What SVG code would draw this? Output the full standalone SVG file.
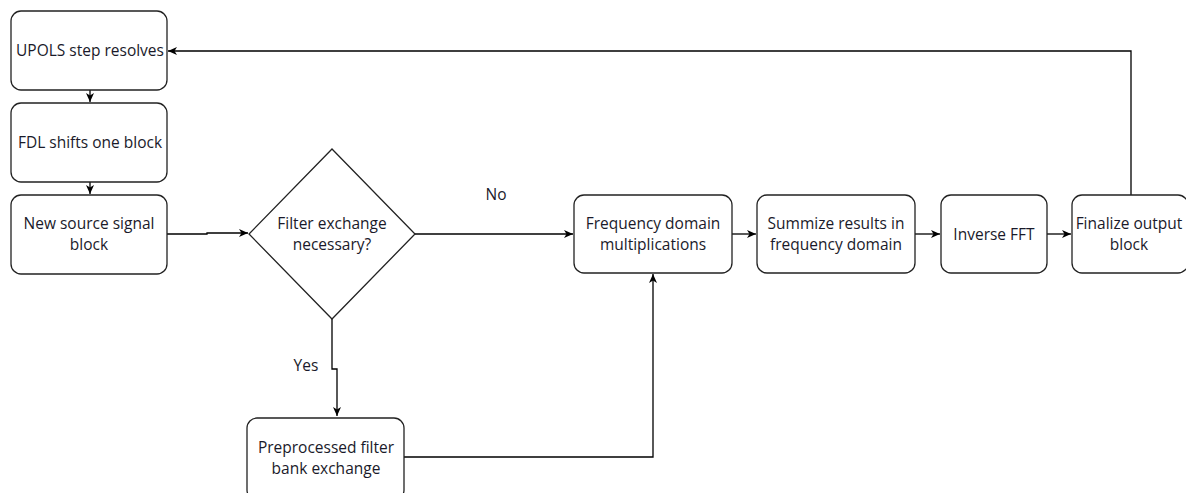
<svg xmlns="http://www.w3.org/2000/svg" width="1186" height="493" viewBox="0 0 1186 493">
  <defs>
    <marker id="arrow" viewBox="0 0 10 10" refX="9" refY="5" markerWidth="10" markerHeight="10" markerUnits="userSpaceOnUse" orient="auto">
      <path d="M0,1 L9,5 L0,9 L2.5,5 Z" fill="#000"/>
    </marker>
  </defs>
  <style>
    .box { fill: #fff; stroke: #222; stroke-width: 1.3; }
    .lbl { font-family: "Open Sans", "Noto Sans", sans-serif; font-size: 15.5px; fill: #1a1a2a; text-anchor: middle; }
    .edge { fill: none; stroke: #000; stroke-width: 1.3; }
  </style>
  <rect width="1186" height="493" fill="#fff"/>

  <g id="connectors">
    <path class="edge" d="M90,90 V102" marker-end="url(#arrow)"/>
    <path class="edge" d="M90,182 V194" marker-end="url(#arrow)"/>
    <path class="edge" d="M167,234 H207 V233 H248" marker-end="url(#arrow)"/>
    <path class="edge" d="M415,234 H573" marker-end="url(#arrow)"/>
    <path class="edge" d="M332,319 V369 H337 V416" marker-end="url(#arrow)"/>
    <path class="edge" d="M404,457 H653 V274" marker-end="url(#arrow)"/>
    <path class="edge" d="M732,234 H756" marker-end="url(#arrow)"/>
    <path class="edge" d="M915,234 H940" marker-end="url(#arrow)"/>
    <path class="edge" d="M1047,234 H1071" marker-end="url(#arrow)"/>
    <path class="edge" d="M1131,195 V51 H168" marker-end="url(#arrow)"/>
    <text class="lbl" x="496" y="200">No</text>
    <text class="lbl" x="306" y="371">Yes</text>
  </g>

  <g id="upols">
    <rect class="box" x="11" y="11" width="156" height="79" rx="10"/>
    <text class="lbl" x="90" y="56">UPOLS step resolves</text>
  </g>
  <g id="fdl">
    <rect class="box" x="11" y="103" width="156" height="79" rx="10"/>
    <text class="lbl" x="90" y="148">FDL shifts one block</text>
  </g>
  <g id="source">
    <rect class="box" x="11" y="195" width="156" height="79" rx="10"/>
    <text class="lbl" x="89" y="229">New source signal</text>
    <text class="lbl" x="89" y="250">block</text>
  </g>
  <g id="decision">
    <polygon class="box" points="332,149 415,234 332,319 249,234"/>
    <text class="lbl" x="332" y="229">Filter exchange</text>
    <text class="lbl" x="332" y="250">necessary?</text>
  </g>
  <g id="preprocessed">
    <rect class="box" x="247" y="418" width="157" height="82" rx="10"/>
    <text class="lbl" x="326" y="453">Preprocessed filter</text>
    <text class="lbl" x="326" y="474">bank exchange</text>
  </g>
  <g id="multiply">
    <rect class="box" x="574" y="195" width="158" height="78" rx="10"/>
    <text class="lbl" x="653" y="229">Frequency domain</text>
    <text class="lbl" x="653" y="250">multiplications</text>
  </g>
  <g id="summize">
    <rect class="box" x="757" y="195" width="158" height="78" rx="10"/>
    <text class="lbl" x="836" y="229">Summize results in</text>
    <text class="lbl" x="836" y="250">frequency domain</text>
  </g>
  <g id="ifft">
    <rect class="box" x="941" y="195" width="106" height="78" rx="10"/>
    <text class="lbl" x="994" y="240">Inverse FFT</text>
  </g>
  <g id="finalize">
    <rect class="box" x="1072" y="195" width="116" height="78" rx="10"/>
    <text class="lbl" x="1129" y="229">Finalize output</text>
    <text class="lbl" x="1129" y="250">block</text>
  </g>
</svg>
